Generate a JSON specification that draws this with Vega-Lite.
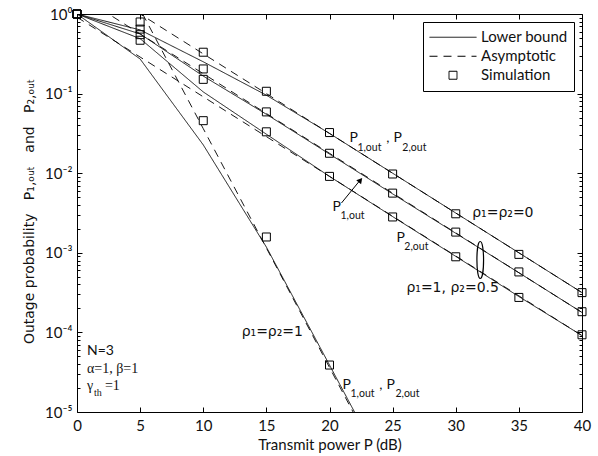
{
  "$schema": "https://vega.github.io/schema/vega-lite/v6.json",
  "width": 505,
  "height": 398,
  "autosize": {"type": "none"},
  "padding": {"left": 77, "top": 14, "right": 16, "bottom": 44},
  "background": "white",
  "config": {
    "view": {"stroke": null},
    "font": "Lato",
    "axis": {
      "grid": false, "domainColor": "black", "tickColor": "black", "labelColor": "#111111",
      "titleColor": "#111111", "labelFont": "Lato", "titleFont": "Lato", "labelFontSize": 15,
      "titleFontSize": 15, "titleFontWeight": "normal", "domainWidth": 1, "tickWidth": 1
    }
  },
  "datasets": {
    "curves": [
      {"P": 0, "p": 1, "curve": "A", "type": "Lower bound"},
      {"P": 5, "p": 0.631, "curve": "A", "type": "Lower bound"},
      {"P": 10, "p": 0.251, "curve": "A", "type": "Lower bound"},
      {"P": 15, "p": 0.0955, "curve": "A", "type": "Lower bound"},
      {"P": 20, "p": 0.0316, "curve": "A", "type": "Lower bound"},
      {"P": 25, "p": 0.01, "curve": "A", "type": "Lower bound"},
      {"P": 30, "p": 0.00316, "curve": "A", "type": "Lower bound"},
      {"P": 35, "p": 0.001, "curve": "A", "type": "Lower bound"},
      {"P": 40, "p": 0.000316, "curve": "A", "type": "Lower bound"},
      {"P": 0, "p": 1, "curve": "B", "type": "Lower bound"},
      {"P": 5, "p": 0.562, "curve": "B", "type": "Lower bound"},
      {"P": 10, "p": 0.166, "curve": "B", "type": "Lower bound"},
      {"P": 15, "p": 0.055, "curve": "B", "type": "Lower bound"},
      {"P": 20, "p": 0.0174, "curve": "B", "type": "Lower bound"},
      {"P": 25, "p": 0.0055, "curve": "B", "type": "Lower bound"},
      {"P": 30, "p": 0.00176, "curve": "B", "type": "Lower bound"},
      {"P": 35, "p": 0.000562, "curve": "B", "type": "Lower bound"},
      {"P": 40, "p": 0.000178, "curve": "B", "type": "Lower bound"},
      {"P": 0, "p": 1, "curve": "C", "type": "Lower bound"},
      {"P": 5, "p": 0.49, "curve": "C", "type": "Lower bound"},
      {"P": 10, "p": 0.105, "curve": "C", "type": "Lower bound"},
      {"P": 15, "p": 0.0309, "curve": "C", "type": "Lower bound"},
      {"P": 20, "p": 0.00912, "curve": "C", "type": "Lower bound"},
      {"P": 25, "p": 0.00285, "curve": "C", "type": "Lower bound"},
      {"P": 30, "p": 0.000902, "curve": "C", "type": "Lower bound"},
      {"P": 35, "p": 0.000282, "curve": "C", "type": "Lower bound"},
      {"P": 40, "p": 0.0000912, "curve": "C", "type": "Lower bound"},
      {"P": 0, "p": 1, "curve": "D", "type": "Lower bound"},
      {"P": 5, "p": 0.272, "curve": "D", "type": "Lower bound"},
      {"P": 10, "p": 0.0227, "curve": "D", "type": "Lower bound"},
      {"P": 15, "p": 0.00118, "curve": "D", "type": "Lower bound"},
      {"P": 20, "p": 0.0000389, "curve": "D", "type": "Lower bound"},
      {"P": 25, "p": 0.00000126, "curve": "D", "type": "Lower bound"},
      {"P": 0, "p": 3.16, "curve": "A", "type": "Asymptotic"},
      {"P": 5, "p": 1.0, "curve": "A", "type": "Asymptotic"},
      {"P": 10, "p": 0.316, "curve": "A", "type": "Asymptotic"},
      {"P": 15, "p": 0.1, "curve": "A", "type": "Asymptotic"},
      {"P": 20, "p": 0.0316, "curve": "A", "type": "Asymptotic"},
      {"P": 25, "p": 0.01, "curve": "A", "type": "Asymptotic"},
      {"P": 30, "p": 0.00316, "curve": "A", "type": "Asymptotic"},
      {"P": 35, "p": 0.001, "curve": "A", "type": "Asymptotic"},
      {"P": 40, "p": 0.000316, "curve": "A", "type": "Asymptotic"},
      {"P": 0, "p": 1.78, "curve": "B", "type": "Asymptotic"},
      {"P": 5, "p": 0.562, "curve": "B", "type": "Asymptotic"},
      {"P": 10, "p": 0.178, "curve": "B", "type": "Asymptotic"},
      {"P": 15, "p": 0.0562, "curve": "B", "type": "Asymptotic"},
      {"P": 20, "p": 0.0178, "curve": "B", "type": "Asymptotic"},
      {"P": 25, "p": 0.00562, "curve": "B", "type": "Asymptotic"},
      {"P": 30, "p": 0.00178, "curve": "B", "type": "Asymptotic"},
      {"P": 35, "p": 0.000562, "curve": "B", "type": "Asymptotic"},
      {"P": 40, "p": 0.000178, "curve": "B", "type": "Asymptotic"},
      {"P": 0, "p": 0.912, "curve": "C", "type": "Asymptotic"},
      {"P": 5, "p": 0.288, "curve": "C", "type": "Asymptotic"},
      {"P": 10, "p": 0.0912, "curve": "C", "type": "Asymptotic"},
      {"P": 15, "p": 0.0288, "curve": "C", "type": "Asymptotic"},
      {"P": 20, "p": 0.00912, "curve": "C", "type": "Asymptotic"},
      {"P": 25, "p": 0.00288, "curve": "C", "type": "Asymptotic"},
      {"P": 30, "p": 0.000912, "curve": "C", "type": "Asymptotic"},
      {"P": 35, "p": 0.000288, "curve": "C", "type": "Asymptotic"},
      {"P": 40, "p": 0.0000912, "curve": "C", "type": "Asymptotic"},
      {"P": 0, "p": 36.3, "curve": "D", "type": "Asymptotic"},
      {"P": 5, "p": 1.15, "curve": "D", "type": "Asymptotic"},
      {"P": 10, "p": 0.0363, "curve": "D", "type": "Asymptotic"},
      {"P": 15, "p": 0.00115, "curve": "D", "type": "Asymptotic"},
      {"P": 20, "p": 0.0000363, "curve": "D", "type": "Asymptotic"},
      {"P": 25, "p": 0.00000115, "curve": "D", "type": "Asymptotic"}
    ],
    "sim": [
      {"P": 0, "p": 1, "curve": "A", "type": "Simulation"},
      {"P": 5, "p": 0.794, "curve": "A", "type": "Simulation"},
      {"P": 10, "p": 0.331, "curve": "A", "type": "Simulation"},
      {"P": 15, "p": 0.107, "curve": "A", "type": "Simulation"},
      {"P": 20, "p": 0.0324, "curve": "A", "type": "Simulation"},
      {"P": 25, "p": 0.00977, "curve": "A", "type": "Simulation"},
      {"P": 30, "p": 0.00309, "curve": "A", "type": "Simulation"},
      {"P": 35, "p": 0.000955, "curve": "A", "type": "Simulation"},
      {"P": 40, "p": 0.000316, "curve": "A", "type": "Simulation"},
      {"P": 0, "p": 1, "curve": "B", "type": "Simulation"},
      {"P": 5, "p": 0.646, "curve": "B", "type": "Simulation"},
      {"P": 10, "p": 0.204, "curve": "B", "type": "Simulation"},
      {"P": 15, "p": 0.0589, "curve": "B", "type": "Simulation"},
      {"P": 20, "p": 0.0178, "curve": "B", "type": "Simulation"},
      {"P": 25, "p": 0.00562, "curve": "B", "type": "Simulation"},
      {"P": 30, "p": 0.00182, "curve": "B", "type": "Simulation"},
      {"P": 35, "p": 0.000575, "curve": "B", "type": "Simulation"},
      {"P": 40, "p": 0.000182, "curve": "B", "type": "Simulation"},
      {"P": 0, "p": 1, "curve": "C", "type": "Simulation"},
      {"P": 5, "p": 0.55, "curve": "C", "type": "Simulation"},
      {"P": 10, "p": 0.151, "curve": "C", "type": "Simulation"},
      {"P": 15, "p": 0.0331, "curve": "C", "type": "Simulation"},
      {"P": 20, "p": 0.00912, "curve": "C", "type": "Simulation"},
      {"P": 25, "p": 0.00282, "curve": "C", "type": "Simulation"},
      {"P": 30, "p": 0.000891, "curve": "C", "type": "Simulation"},
      {"P": 35, "p": 0.000275, "curve": "C", "type": "Simulation"},
      {"P": 40, "p": 0.0000933, "curve": "C", "type": "Simulation"},
      {"P": 0, "p": 1, "curve": "D", "type": "Simulation"},
      {"P": 5, "p": 0.468, "curve": "D", "type": "Simulation"},
      {"P": 10, "p": 0.0457, "curve": "D", "type": "Simulation"},
      {"P": 15, "p": 0.00158, "curve": "D", "type": "Simulation"},
      {"P": 20, "p": 0.0000389, "curve": "D", "type": "Simulation"}
    ],
    "annMain": [
      {"P": 21.58, "p": 0.02767, "t": "P"},
      {"P": 24.5, "p": 0.02767, "t": ","},
      {"P": 25.06, "p": 0.02767, "t": "P"},
      {"P": 20.24, "p": 0.003758, "t": "P"},
      {"P": 25.3, "p": 0.001535, "t": "P"},
      {"P": 21.03, "p": 0.0000218, "t": "P"},
      {"P": 23.95, "p": 0.0000218, "t": ","},
      {"P": 24.51, "p": 0.0000218, "t": "P"},
      {"P": 0.79, "p": 0.0000583, "t": "N=3"}
    ],
    "annRho": [
      {"P": 31.3, "p": 0.003162, "t": "ρ₁=ρ₂=0"},
      {"P": 26.09, "p": 0.000361, "t": "ρ₁=1, ρ₂=0.5"},
      {"P": 13.04, "p": 0.0001012, "t": "ρ₁=ρ₂=1"}
    ],
    "annSub": [
      {"P": 22.21, "p": 0.02074, "t": "1,out"},
      {"P": 25.77, "p": 0.02074, "t": "2,out"},
      {"P": 20.87, "p": 0.002898, "t": "1,out"},
      {"P": 25.93, "p": 0.001183, "t": "2,out"},
      {"P": 21.66, "p": 0.00001683, "t": "1,out"},
      {"P": 25.22, "p": 0.00001683, "t": "2,out"}
    ],
    "annSerif": [
      {"P": 0.79, "p": 0.0000347, "t": "α=1, β=1"},
      {"P": 0.79, "p": 0.0000212, "t": "γ"},
      {"P": 2.21, "p": 0.0000212, "t": "=1"}
    ],
    "annSerifSub": [
      {"P": 1.34, "p": 0.0000173, "t": "th"}
    ],
    "arrow": [
      {"P": 20.95, "p": 0.004224, "P2": 22.35, "p2": 0.0079}
    ],
    "arrowhead": [
      {"P": 22.45, "p": 0.0082}
    ],
    "ellipse": [
      {"P": 31.94, "p": 0.000812}
    ]
  },
  "resolve": {"axis": {"x": "independent", "y": "independent"}},
  "layer": [
    {
      "data": {"name": "curves"},
      "mark": {"type": "line", "clip": true, "color": "black", "strokeWidth": 0.9},
      "encoding": {
        "x": {
          "field": "P", "type": "quantitative",
          "scale": {"type": "linear", "domain": [0, 40], "nice": false, "zero": false},
          "axis": {"orient": "bottom", "values": [0, 5, 10, 15, 20, 25, 30, 35, 40], "tickSize": -5,
            "labelPadding": 11, "labelFlush": false, "title": "Transmit power P (dB)",
            "titleY": 32, "titleBaseline": "middle"}
        },
        "y": {
          "field": "p", "type": "quantitative",
          "scale": {"type": "log", "domain": [0.00001, 1], "nice": false},
          "axis": {"orient": "left", "values": [0.00001, 0.0001, 0.001, 0.01, 0.1, 1], "tickSize": -5,
            "labelPadding": 10,
            "labelExpr": "datum.value >= 0.5 ? '10⁰' : datum.value >= 0.05 ? '10⁻¹' : datum.value >= 0.005 ? '10⁻²' : datum.value >= 0.0005 ? '10⁻³' : datum.value >= 0.00005 ? '10⁻⁴' : '10⁻⁵'",
            "title": "Outage probability\u00a0\u00a0\u00a0P₁,ₒᵤₜ\u00a0\u00a0\u00a0and\u00a0\u00a0\u00a0P₂,ₒᵤₜ",
            "titleFont": "DejaVu Sans", "titleFontSize": 14,
            "titleX": -48, "titleY": 197, "titleBaseline": "middle", "titleAngle": -90, "titleAlign": "center"}
        },
        "strokeDash": {
          "field": "type", "type": "nominal",
          "scale": {"domain": ["Lower bound", "Asymptotic", "Simulation"], "range": [[1, 0], [8, 6], [1, 0]]},
          "legend": {"title": null, "orient": "top-right", "offset": 8, "padding": 6, "strokeColor": "black",
            "fillColor": "white", "labelFontSize": 15, "labelFont": "Lato", "labelColor": "#111111",
            "symbolSize": 2209, "symbolStrokeWidth": 1, "symbolStrokeColor": "black",
            "symbolFillColor": "transparent", "clipHeight": 18.5, "labelOffset": 4, "rowPadding": 0}
        },
        "detail": {"field": "curve"}
      }
    },
    {
      "data": {"name": "sim"},
      "mark": {"type": "point", "filled": false, "color": "black", "strokeWidth": 1, "size": 2209, "opacity": 1},
      "encoding": {
        "x": {"field": "P", "type": "quantitative",
          "axis": {"orient": "top", "values": [0, 5, 10, 15, 20, 25, 30, 35, 40], "labels": false, "tickSize": -5, "title": null}},
        "y": {"field": "p", "type": "quantitative",
          "axis": {"orient": "right", "values": [0.00001, 0.0001, 0.001, 0.01, 0.1, 1], "labels": false, "tickSize": -5, "title": null}},
        "shape": {
          "field": "type", "type": "nominal",
          "scale": {"domain": ["Lower bound", "Asymptotic", "Simulation"], "range": ["M-1,0H1", "M-1,0H1", "M-0.17,-0.17H0.17V0.17H-0.17Z"]},
          "legend": {"title": null, "orient": "top-right", "offset": 8, "padding": 6, "strokeColor": "black",
            "fillColor": "white", "labelFontSize": 15, "labelFont": "Lato", "labelColor": "#111111",
            "symbolSize": 2209, "symbolStrokeWidth": 1, "symbolStrokeColor": "black",
            "symbolFillColor": "transparent", "clipHeight": 18.5, "labelOffset": 4, "rowPadding": 0}
        }
      }
    },
    {
      "data": {"name": "sim"},
      "mark": {"type": "point", "opacity": 0},
      "encoding": {
        "x": {"field": "P", "type": "quantitative", "axis": null},
        "y": {"field": "p", "type": "quantitative",
          "axis": {"orient": "left", "labels": false, "tickSize": -3, "domain": false, "title": null,
            "values": [0.00002, 0.00003, 0.00004, 0.00005, 0.00006, 0.00007, 0.00008, 0.00009,
              0.0002, 0.0003, 0.0004, 0.0005, 0.0006, 0.0007, 0.0008, 0.0009,
              0.002, 0.003, 0.004, 0.005, 0.006, 0.007, 0.008, 0.009,
              0.02, 0.03, 0.04, 0.05, 0.06, 0.07, 0.08, 0.09,
              0.2, 0.3, 0.4, 0.5, 0.6, 0.7, 0.8, 0.9]}}
      }
    },
    {
      "data": {"name": "sim"},
      "mark": {"type": "point", "opacity": 0},
      "encoding": {
        "x": {"field": "P", "type": "quantitative", "axis": null},
        "y": {"field": "p", "type": "quantitative",
          "axis": {"orient": "right", "labels": false, "tickSize": -3, "domain": false, "title": null,
            "values": [0.00002, 0.00003, 0.00004, 0.00005, 0.00006, 0.00007, 0.00008, 0.00009,
              0.0002, 0.0003, 0.0004, 0.0005, 0.0006, 0.0007, 0.0008, 0.0009,
              0.002, 0.003, 0.004, 0.005, 0.006, 0.007, 0.008, 0.009,
              0.02, 0.03, 0.04, 0.05, 0.06, 0.07, 0.08, 0.09,
              0.2, 0.3, 0.4, 0.5, 0.6, 0.7, 0.8, 0.9]}}
      }
    },
    {
      "data": {"name": "annMain"},
      "mark": {"type": "text", "align": "left", "baseline": "middle", "fontSize": 14, "font": "Lato", "color": "#111111"},
      "encoding": {
        "x": {"field": "P", "type": "quantitative", "axis": null},
        "y": {"field": "p", "type": "quantitative", "axis": null},
        "text": {"field": "t"}
      }
    },
    {
      "data": {"name": "annRho"},
      "mark": {"type": "text", "align": "left", "baseline": "middle", "fontSize": 14, "font": "DejaVu Sans", "color": "#111111"},
      "encoding": {
        "x": {"field": "P", "type": "quantitative", "axis": null},
        "y": {"field": "p", "type": "quantitative", "axis": null},
        "text": {"field": "t"}
      }
    },
    {
      "data": {"name": "annSub"},
      "mark": {"type": "text", "align": "left", "baseline": "middle", "fontSize": 10.5, "font": "Lato", "color": "#111111"},
      "encoding": {
        "x": {"field": "P", "type": "quantitative", "axis": null},
        "y": {"field": "p", "type": "quantitative", "axis": null},
        "text": {"field": "t"}
      }
    },
    {
      "data": {"name": "annSerif"},
      "mark": {"type": "text", "align": "left", "baseline": "middle", "fontSize": 14, "font": "Liberation Serif", "color": "#111111"},
      "encoding": {
        "x": {"field": "P", "type": "quantitative", "axis": null},
        "y": {"field": "p", "type": "quantitative", "axis": null},
        "text": {"field": "t"}
      }
    },
    {
      "data": {"name": "annSerifSub"},
      "mark": {"type": "text", "align": "left", "baseline": "middle", "fontSize": 10, "font": "Liberation Serif", "color": "#111111"},
      "encoding": {
        "x": {"field": "P", "type": "quantitative", "axis": null},
        "y": {"field": "p", "type": "quantitative", "axis": null},
        "text": {"field": "t"}
      }
    },
    {
      "data": {"name": "arrow"},
      "mark": {"type": "rule", "color": "black", "strokeWidth": 1},
      "encoding": {
        "x": {"field": "P", "type": "quantitative", "axis": null},
        "y": {"field": "p", "type": "quantitative", "axis": null},
        "x2": {"field": "P2"},
        "y2": {"field": "p2"}
      }
    },
    {
      "data": {"name": "arrowhead"},
      "mark": {"type": "point", "shape": "triangle-up", "filled": true, "color": "black", "size": 40, "angle": 40, "opacity": 1},
      "encoding": {
        "x": {"field": "P", "type": "quantitative", "axis": null},
        "y": {"field": "p", "type": "quantitative", "axis": null}
      }
    },
    {
      "data": {"name": "ellipse"},
      "mark": {"type": "point", "shape": "M0,-1C0.24,-1 0.24,1 0,1C-0.24,1 -0.24,-1 0,-1Z", "filled": false, "color": "black", "strokeWidth": 1.2, "size": 1369, "opacity": 1},
      "encoding": {
        "x": {"field": "P", "type": "quantitative", "axis": null},
        "y": {"field": "p", "type": "quantitative", "axis": null}
      }
    }
  ]
}
